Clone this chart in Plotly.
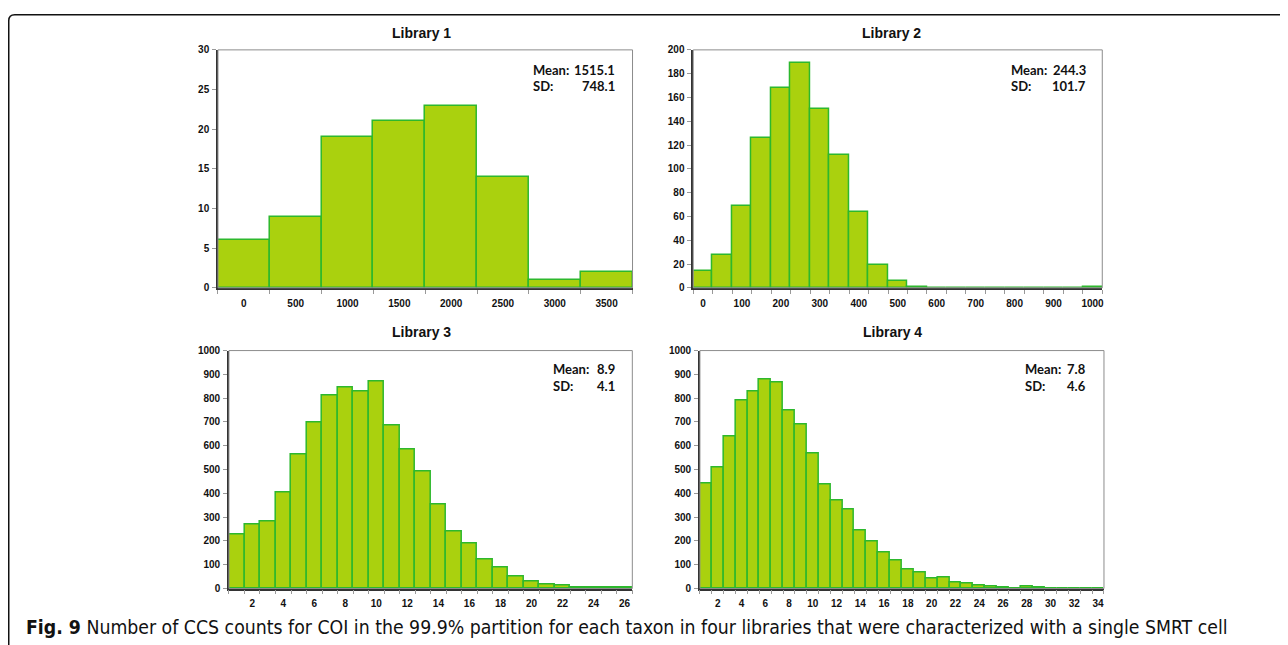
import plotly.graph_objects as go

# page offset compensation measured from rendering: screen_y ~= 0.9807*fig_y + 13.5
OFFX = 8
SY, OY = 0.9807, 13.5
W, H = 1272, 645

# ---- data ----
lib1_bins = [0, 500, 1000, 1500, 2000, 2500, 3000, 3500]
lib1_counts = [6, 9, 19, 21, 23, 14, 1, 2]

lib2_bins = [0, 50, 100, 150, 200, 250, 300, 350, 400, 450, 500,
             550, 600, 650, 700, 750, 800, 850, 900, 950, 1000]
lib2_counts = [14, 28, 69, 126, 168, 189, 150, 112, 64, 19, 6,
               1, 0, 0, 0, 0, 0, 0, 0, 0, 1]

lib3_bins = list(range(1, 27))
lib3_counts = [227, 270, 282, 403, 565, 699, 812, 844, 827, 871, 683, 583, 490,
               354, 239, 188, 122, 86, 52, 29, 17, 13, 6, 2, 2, 2]

lib4_bins = list(range(1, 35))
lib4_counts = [442, 508, 638, 791, 826, 878, 865, 747, 691, 569, 438, 371, 333,
               244, 199, 150, 117, 81, 67, 42, 46, 25, 21, 14, 10, 4, 1, 8, 3,
               1, 1, 1, 1, 1]

titles = ["Library 1", "Library 2", "Library 3", "Library 4"]
means = ["1515.1", "244.3", "8.9", "7.8"]
sds = ["748.1", "101.7", "4.1", "4.6"]

lib1_ticks = [0, 500, 1000, 1500, 2000, 2500, 3000, 3500]
lib2_ticks = [0, 100, 200, 300, 400, 500, 600, 700, 800, 900, 1000]
lib3_ticks = list(range(2, 27, 2))
lib4_ticks = list(range(2, 35, 2))

caption_bold = "Fig. 9"
caption_text = ("Number of CCS counts for COI in the 99.9% partition for each taxon "
                "in four libraries that were characterized with a single SMRT cell")

# ---- styling ----
FILL = "#AAD10E"
EDGE = "#2DB82D"

panels = [
    dict(bins=lib1_bins, counts=lib1_counts, width=500, ticks=lib1_ticks,
         ymax=30, dy=5, box=(218.3, 633.5, 49.3, 286.7),
         title_xy=(422, 32), mean_l=531.5, mean_r=617.7, mean_y=69, sd_y=85.7),
    dict(bins=lib2_bins, counts=lib2_counts, width=50, ticks=lib2_ticks,
         ymax=200, dy=20, box=(694.3, 1104, 49.3, 286.7),
         title_xy=(893, 32), mean_l=1011, mean_r=1090, mean_y=69, sd_y=85.7),
    dict(bins=lib3_bins, counts=lib3_counts, width=1, ticks=lib3_ticks,
         ymax=1000, dy=100, box=(229.3, 633.3, 349.3, 586.7),
         title_xy=(422, 331), mean_l=552.3, mean_r=617.7, mean_y=367.7, sd_y=384.3),
    dict(bins=lib4_bins, counts=lib4_counts, width=1, ticks=lib4_ticks,
         ymax=1000, dy=100, box=(701, 1105.7, 349.3, 586.7),
         title_xy=(894, 331), mean_l=1024.3, mean_r=1090, mean_y=367.7, sd_y=384.3),
]

def px(x):
    return (x - OFFX) / W

def py(y):
    f = (y - OY) / SY
    return 1 - f / H

fig = go.Figure()
annotations = []
shapes = []
TICKFONT = dict(family="Liberation Sans, Arial, sans-serif", size=10, color="#111",
                weight="bold")

for i, p in enumerate(panels):
    n = i + 1
    xa = "x" if n == 1 else f"x{n}"
    ya = "y" if n == 1 else f"y{n}"
    fig.add_trace(go.Bar(
        x=p["bins"], y=p["counts"], width=p["width"],
        marker=dict(color=FILL, line=dict(color=EDGE, width=1.5)),
        xaxis=xa, yaxis=ya, showlegend=False, hoverinfo="x+y",
    ))
    x0, x1, y0, y1 = p["box"]
    w = p["width"]
    lo = p["bins"][0] - w / 2
    hi = p["bins"][-1] + w / 2
    xkey = "xaxis" if n == 1 else f"xaxis{n}"
    ykey = "yaxis" if n == 1 else f"yaxis{n}"
    fig.layout[xkey] = dict(
        domain=[px(x0), px(x1)], range=[lo, hi], anchor=ya,
        tickmode="array", tickvals=p["ticks"], ticktext=[str(t) for t in p["ticks"]],
        ticks="", tickfont=TICKFONT, showgrid=False, zeroline=False,
        ticklabelstandoff=5,
        showline=True, linecolor="#333", linewidth=1.5,
        minor=dict(ticks="outside", tick0=lo, dtick=w, ticklen=4,
                   tickcolor="#999", tickwidth=1, showgrid=False),
        fixedrange=True,
    )
    fig.layout[ykey] = dict(
        domain=[py(y1), py(y0)], range=[0, p["ymax"]], anchor=xa,
        dtick=p["dy"], tick0=0, ticks="outside", ticklen=4, tickcolor="#999",
        tickfont=TICKFONT, showgrid=False, zeroline=False, ticklabelstandoff=1,
        showline=True, linecolor="#333", linewidth=1.5, fixedrange=True,
    )
    shapes.append(dict(type="rect", xref="paper", yref="paper",
                       x0=px(x0), x1=px(x1), y0=py(y1), y1=py(y0),
                       line=dict(color="#8c8c8c", width=1), layer="above"))
    tx, ty = p["title_xy"]
    annotations.append(dict(x=px(tx), y=py(ty), xref="paper", yref="paper",
                            text=f"<b>{titles[i]}</b>", showarrow=False,
                            font=dict(family="Liberation Sans, Arial, sans-serif",
                                      size=14, color="#111"),
                            xanchor="center", yanchor="middle"))
    sfont = dict(family="Lato, sans-serif", size=13, color="#111")
    for txt, xx, yy, anc in [("Mean:", p["mean_l"], p["mean_y"], "left"),
                             ("SD:", p["mean_l"], p["sd_y"], "left"),
                             (means[i], p["mean_r"], p["mean_y"], "right"),
                             (sds[i], p["mean_r"], p["sd_y"], "right")]:
        annotations.append(dict(x=px(xx), y=py(yy), xref="paper", yref="paper",
                                text=f"<b>{txt}</b>", showarrow=False, font=sfont,
                                xanchor=anc, yanchor="middle"))

# caption
annotations.append(dict(x=px(24), y=py(626), xref="paper", yref="paper",
                        text=f"<b>{caption_bold}</b> {caption_text}", showarrow=False,
                        font=dict(family="Liberation Sans Narrow, DejaVu Sans Condensed, sans-serif",
                                  size=19.3, color="#111"),
                        xanchor="left", yanchor="middle"))

# rounded border (as close to the top as the figure allows)
r = 6
ytop = 14.3
path = (f"M {px(8.75)},-0.2 L {px(8.75)},{py(ytop + r)} "
        f"Q {px(8.75)},{py(ytop)} {px(8.75 + r)},{py(ytop)} L {px(1300)},{py(ytop)}")
shapes.append(dict(type="path", xref="paper", yref="paper", path=path,
                   line=dict(color="#111", width=1.5)))

fig.update_layout(
    width=W, height=H, margin=dict(l=0, r=0, t=0, b=0),
    paper_bgcolor="white", plot_bgcolor="white",
    bargap=0, annotations=annotations, shapes=shapes,
)

fig.write_html("out.html")
